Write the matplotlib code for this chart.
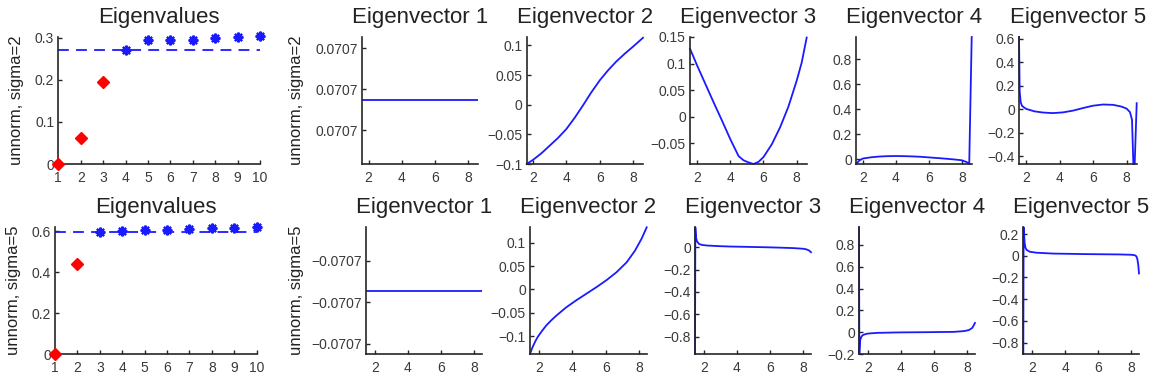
import matplotlib
matplotlib.use("Agg")
import matplotlib.pyplot as plt
from matplotlib.ticker import FixedLocator, FixedFormatter

plt.rcParams['font.family'] = ['Liberation Sans', 'DejaVu Sans']

# ---------------- data ----------------
idx = [1, 2, 3, 4, 5, 6, 7, 8, 9, 10]
eigvals_s2 = [0.0, 0.063, 0.194, 0.272, 0.294, 0.296, 0.296, 0.299, 0.302, 0.304]
eigvals_s5 = [0.0, 0.441, 0.595, 0.603, 0.608, 0.608, 0.610, 0.619, 0.619, 0.623]
gap_s2 = 0.2716
gap_s5 = 0.598
n_red_s2 = 3
n_red_s5 = 2

# sigma = 2 eigenvectors (x, y)
ev1_s2_x = [1.58, 8.60]
ev1_s2_y = [0.07071068, 0.07071068]
ev2_s2_x = [1.62, 2.0, 2.5, 3.0, 3.5, 4.0, 4.5, 5.0, 5.5, 6.0, 6.5, 7.0, 7.5, 8.0, 8.6]
ev2_s2_y = [-0.100, -0.093, -0.082, -0.069, -0.056, -0.041, -0.022, -0.001, 0.021, 0.041,
            0.058, 0.073, 0.086, 0.098, 0.113]
ev3_s2_x = [1.58, 2.0, 2.5, 3.0, 3.5, 4.0, 4.5, 4.8, 5.1, 5.4, 5.7, 6.0, 6.5, 7.0, 7.5, 8.0, 8.3, 8.6]
ev3_s2_y = [0.128, 0.097, 0.062, 0.027, -0.007, -0.042, -0.074, -0.082, -0.086, -0.089,
            -0.085, -0.076, -0.052, -0.020, 0.019, 0.068, 0.102, 0.149]
ev4_s2_x = [1.58, 1.8, 2.0, 2.5, 3.0, 3.5, 4.0, 4.5, 5.0, 5.5, 6.0, 6.5, 7.0, 7.5, 8.0, 8.3, 8.45, 8.60]
ev4_s2_y = [-0.04, -0.01, 0.004, 0.014, 0.020, 0.023, 0.024, 0.023, 0.021, 0.018, 0.013,
            0.008, 0.003, -0.003, -0.010, -0.025, -0.040, 0.980]
ev5_s2_x = [1.58, 1.62, 1.68, 1.76, 2.0, 2.5, 3.0, 3.6, 4.2, 4.8, 5.4, 6.0, 6.6, 7.2, 7.7,
            8.0, 8.2, 8.32, 8.40, 8.48, 8.60]
ev5_s2_y = [0.613, 0.15, 0.06, 0.028, 0.003, -0.018, -0.028, -0.033, -0.027, -0.012, 0.010,
            0.030, 0.040, 0.037, 0.022, 0.005, -0.025, -0.09, -0.465, -0.465, 0.051]

# sigma = 5 eigenvectors (x, y)
ev1_s5_x = [1.47, 8.46]
ev1_s5_y = [-0.07071068, -0.07071068]
ev2_s5_x = [1.47, 1.55, 1.64, 1.80, 1.94, 2.2, 2.44, 2.74, 3.04, 3.64, 4.24, 4.84, 5.44, 6.04,
            6.64, 7.24, 7.74, 8.14, 8.44]
ev2_s5_y = [-0.138, -0.130, -0.122, -0.110, -0.101, -0.088, -0.077, -0.066, -0.056, -0.038,
            -0.023, -0.009, 0.005, 0.020, 0.037, 0.058, 0.083, 0.109, 0.133]
ev3_s5_x = [1.47, 1.49, 1.53, 1.58, 1.70, 1.9, 2.2, 3.0, 3.6, 4.6, 5.6, 6.6, 7.4, 8.0, 8.2, 8.35, 8.46]
ev3_s5_y = [-0.955, 0.178, 0.09, 0.055, 0.030, 0.020, 0.015, 0.009, 0.006, 0.003, 0.0, -0.004,
            -0.008, -0.014, -0.020, -0.030, -0.045]
ev4_s5_x = [1.47, 1.49, 1.52, 1.55, 1.62, 1.70, 1.85, 2.04, 2.6, 3.9, 5.5, 7.18, 7.8, 8.1, 8.3, 8.46]
ev4_s5_y = [0.962, -0.198, -0.11, -0.067, -0.040, -0.027, -0.018, -0.012, -0.006, -0.002, 0.0,
            0.003, 0.010, 0.020, 0.040, 0.085]
ev5_s5_x = [1.47, 1.49, 1.52, 1.55, 1.60, 1.66, 1.86, 2.26, 3.27, 5.28, 7.29, 8.0, 8.2, 8.3,
            8.36, 8.42, 8.46]
ev5_s5_y = [-0.905, 0.262, 0.19, 0.120, 0.075, 0.055, 0.037, 0.028, 0.020, 0.015, 0.012, 0.009,
            0.005, -0.005, -0.030, -0.090, -0.163]

# tick labels
ev_ticks_s2 = [0, 0.1, 0.2, 0.3]
ev_ticks_s5 = [0, 0.2, 0.4, 0.6]
xt_vec = [2, 4, 6, 8]
ev1_lbl_s2 = ['0.0707', '0.0707', '0.0707']
ev1_lbl_s5 = ['\u22120.0707', '\u22120.0707', '\u22120.0707']
yt_s2 = [[-0.1, -0.05, 0, 0.05, 0.1],
         [-0.05, 0, 0.05, 0.1, 0.15],
         [0, 0.2, 0.4, 0.6, 0.8],
         [-0.4, -0.2, 0, 0.2, 0.4, 0.6]]
yt_s5 = [[-0.1, -0.05, 0, 0.05, 0.1],
         [-0.8, -0.6, -0.4, -0.2, 0],
         [-0.2, 0, 0.2, 0.4, 0.6, 0.8],
         [-0.8, -0.6, -0.4, -0.2, 0, 0.2]]
ylabels = ['unnorm, sigma=2', 'unnorm, sigma=5']

# ---------------- layout ----------------
W, H = 1158, 380
fig = plt.figure(figsize=(W / 100, H / 100), dpi=100)

row_top = [37, 227.3]
row_bot = [164, 354]
lefts = [[58.3, 361.7, 526.7, 690, 856, 1019],
         [55, 366, 530, 695, 859, 1023.3]]
widths = [[201.7, 116.3, 116.3, 116.7, 115.7, 117.7],
          [201.7, 115.7, 116.7, 116, 116, 115.7]]

SP = '#262626'
BLUE = '#1a1aff'
TFS = 16


def make_ax(r, c):
    l = lefts[r][c] / W
    b = (H - row_bot[r]) / H
    w = widths[r][c] / W
    h = (row_bot[r] - row_top[r]) / H
    ax = fig.add_axes([l, b, w, h])
    for s in ['top', 'right']:
        ax.spines[s].set_visible(False)
    for s in ['left', 'bottom']:
        ax.spines[s].set_color(SP)
        ax.spines[s].set_linewidth(1.2)
    ax.tick_params(direction='in', length=3, width=1, colors=SP,
                   labelsize=10, labelcolor='#3a3a3a')
    ax.tick_params(axis='x', pad=5)
    ax.tick_params(axis='y', pad=3)
    return ax


def fmt(v):
    if v == 0:
        return '0'
    s = ('%g' % v)
    return s.replace('-', '\u2212')


eigsets = [(eigvals_s2, gap_s2, n_red_s2, ev_ticks_s2, 0.302),
           (eigvals_s5, gap_s5, n_red_s5, ev_ticks_s5, 0.62)]
vecsets = [
    [(ev2_s2_x, ev2_s2_y), (ev3_s2_x, ev3_s2_y), (ev4_s2_x, ev4_s2_y), (ev5_s2_x, ev5_s2_y)],
    [(ev2_s5_x, ev2_s5_y), (ev3_s5_x, ev3_s5_y), (ev4_s5_x, ev4_s5_y), (ev5_s5_x, ev5_s5_y)],
]
ev1sets = [(ev1_s2_x, ev1_s2_y, ev1_lbl_s2), (ev1_s5_x, ev1_s5_y, ev1_lbl_s5)]
yts = [yt_s2, yt_s5]

for r in range(2):
    vals, gap, nred, yt, ytop = eigsets[r]
    ax = make_ax(r, 0)
    ax.axhline(gap, color=BLUE, lw=1.3, ls=(0, (6, 4)))
    ax.plot(idx[:nred], vals[:nred], ls='none', marker='D', ms=6.5,
            color='#ff0000', mec='#ff0000', clip_on=False, zorder=5)
    ax.plot(idx[nred:], vals[nred:], ls='none', marker=(8, 2, 0), ms=7,
            mew=1.6, color=BLUE, clip_on=False, zorder=5)
    ax.set_xlim(1, 10)
    ax.set_ylim(0, ytop)
    ax.set_xticks(idx)
    ax.set_yticks(yt)
    ax.set_yticklabels([fmt(v) for v in yt])
    ax.set_title('Eigenvalues', fontsize=TFS, pad=10, color='#222222')
    ax.set_ylabel(ylabels[r], fontsize=12, color='#222222')
    ax.yaxis.set_label_coords(-0.17, 0.5)

    # Eigenvector 1 (constant)
    ex, ey, elbl = ev1sets[r]
    ax = make_ax(r, 1)
    ax.plot(ex, ey, color=BLUE, lw=1.3)
    c = ey[0]
    s = 1e-9
    t_mid = c + 0.26 * s if r == 0 else c - 0.27 * s
    ticks = [t_mid - s, t_mid, t_mid + s]
    if r == 0:
        ax.set_ylim(ticks[0] - 0.83 * s, ticks[2] + 0.276 * s)
    else:
        ax.set_ylim(ticks[0] - 0.25 * s, ticks[2] + 0.8 * s)
    ax.yaxis.set_major_locator(FixedLocator(ticks))
    ax.yaxis.set_major_formatter(FixedFormatter(elbl))
    ax.set_xlim(ex[0], ex[-1])
    ax.set_xticks(xt_vec)
    ax.set_title('Eigenvector 1', fontsize=TFS, pad=10, color='#222222')
    ax.set_ylabel(ylabels[r], fontsize=12, color='#222222')
    ax.yaxis.set_label_coords(-0.50 if r == 0 else -0.54, 0.5)

    for k in range(4):
        vx, vy = vecsets[r][k]
        ax = make_ax(r, k + 2)
        ax.plot(vx, vy, color=BLUE, lw=1.3, clip_on=False)
        ax.set_xlim(vx[0], vx[-1])
        ax.set_ylim(min(vy), max(vy) if k != 0 or r != 0 else 0.1143)
        ax.set_xticks(xt_vec)
        ax.set_yticks(yts[r][k])
        ax.set_yticklabels([fmt(v) for v in yts[r][k]])
        ax.set_title('Eigenvector %d' % (k + 2), fontsize=TFS, pad=10, color='#222222')

fig.savefig('out.png', dpi=100)
